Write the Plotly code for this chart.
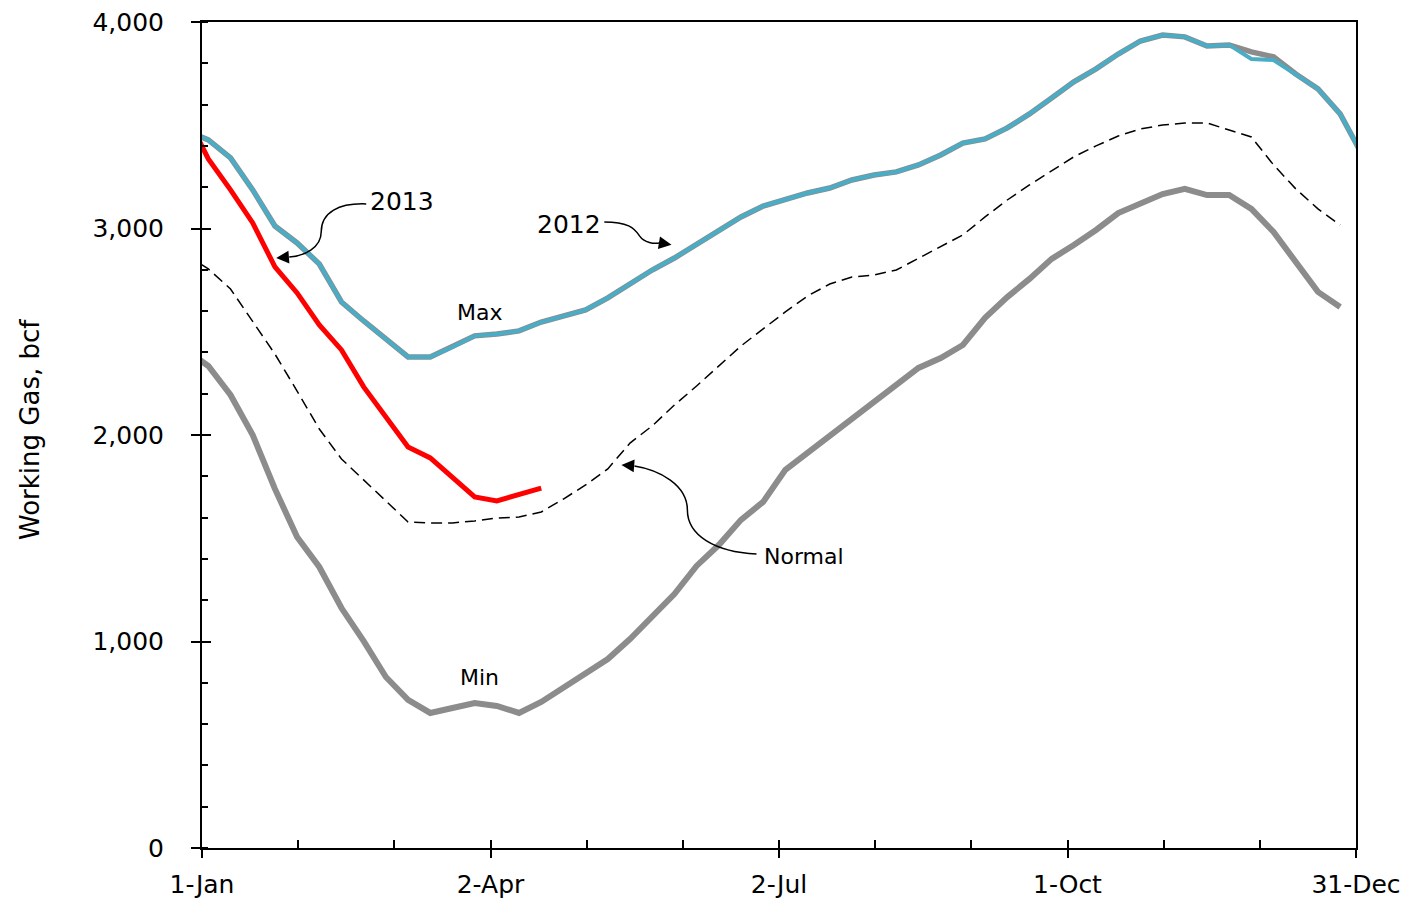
import plotly.graph_objects as go

# ---------------- data (day of year, bcf) ----------------
week_days = [-5, 2, 9, 16, 23, 30, 37, 44, 51, 58, 65, 72, 79, 86, 93, 100, 107,
             114, 121, 128, 135, 142, 149, 156, 163, 170, 177, 184, 191, 198, 205,
             212, 219, 226, 233, 240, 247, 254, 261, 268, 275, 282, 289, 296, 303,
             310, 317, 324, 331, 338, 345, 352, 359, 366]

gas_2012 = [3475, 3429, 3342, 3187, 3012, 2930, 2828, 2644, 2552, 2465, 2378, 2378,
            2426, 2480, 2489, 2504, 2547, 2576, 2606, 2664, 2731, 2799, 2857, 2925,
            2993, 3056, 3109, 3143, 3172, 3196, 3235, 3259, 3274, 3308, 3356, 3414,
            3434, 3487, 3555, 3632, 3710, 3773, 3845, 3908, 3937, 3928, 3884, 3889,
            3821, 3816, 3748, 3676, 3555, 3356]

gas_max = [3475, 3429, 3342, 3187, 3012, 2930, 2828, 2644, 2552, 2465, 2378, 2378,
           2426, 2480, 2489, 2504, 2547, 2576, 2606, 2664, 2731, 2799, 2857, 2925,
           2993, 3056, 3109, 3143, 3172, 3196, 3235, 3259, 3274, 3308, 3356, 3414,
           3434, 3487, 3555, 3632, 3710, 3773, 3845, 3908, 3937, 3928, 3884, 3889,
           3855, 3831, 3748, 3676, 3555, 3356]

gas_normal = [2872, 2804, 2707, 2547, 2392, 2213, 2029, 1884, 1782, 1685, 1579, 1574,
              1574, 1584, 1598, 1603, 1627, 1690, 1758, 1836, 1961, 2044, 2145, 2237,
              2334, 2431, 2514, 2596, 2673, 2731, 2765, 2775, 2799, 2857, 2915, 2969,
              3056, 3138, 3211, 3279, 3347, 3400, 3448, 3482, 3501, 3511, 3511, 3477,
              3443, 3308, 3192, 3095, 3017]

gas_min = [2410, 2334, 2194, 2000, 1739, 1506, 1361, 1162, 1002, 828, 717, 654,
           678, 702, 688, 654, 707, 775, 843, 915, 1012, 1119, 1230, 1366, 1467,
           1589, 1676, 1831, 1913, 1995, 2082, 2160, 2242, 2325, 2373, 2436, 2567,
           2668, 2756, 2853, 2920, 2993, 3075, 3124, 3167, 3192, 3162, 3162, 3095,
           2983, 2838, 2693, 2620]

gas_2013 = [3550, 3337, 3187, 3027, 2814, 2688, 2533, 2412, 2233, 2087, 1942, 1889,
            1794, 1700, 1681, 1712, 1743]

tick_days = [0, 91, 182, 273, 364]
tick_labels = ["1-Jan", "2-Apr", "2-Jul", "1-Oct", "31-Dec"]
y_ticks = [0, 1000, 2000, 3000, 4000]

FONT = "DejaVu Sans"
GREY = "#8c8c8c"
CYAN = "#4bacc6"

fig = go.Figure()
fig.add_trace(go.Scatter(x=week_days[:len(gas_min)], y=gas_min, mode="lines", name="Min",
                         line=dict(color=GREY, width=6)))
fig.add_trace(go.Scatter(x=week_days[:len(gas_max)], y=gas_max, mode="lines", name="Max",
                         line=dict(color=GREY, width=5.5)))
fig.add_trace(go.Scatter(x=week_days[:len(gas_2012)], y=gas_2012, mode="lines", name="2012",
                         line=dict(color=CYAN, width=4)))
fig.add_trace(go.Scatter(x=week_days[:len(gas_2013)], y=gas_2013, mode="lines", name="2013",
                         line=dict(color="#ff0000", width=5)))
fig.add_trace(go.Scatter(x=week_days[:len(gas_normal)], y=gas_normal, mode="lines", name="Normal",
                         line=dict(color="black", width=1.5, dash="11px,6px"),
                         xaxis="x2", yaxis="y2"))

minor_x = [m * 91 / 3 for m in range(1, 12) if m % 3]

fig.update_layout(
    width=1406, height=904,
    margin=dict(l=202, r=50, t=22, b=56),
    paper_bgcolor="white", plot_bgcolor="white",
    showlegend=False,
    font=dict(family=FONT, color="black", size=25),
    xaxis=dict(range=[0, 364], tickmode="array", tickvals=tick_days, ticktext=tick_labels,
               ticks="outside", ticklen=8, tickwidth=2, tickcolor="black",
               showline=True, linecolor="black", linewidth=2, mirror=True,
               showgrid=False, zeroline=False, ticklabelstandoff=5, automargin=False,
               tickfont=dict(family=FONT, size=25, color="black"),
               minor=dict(tickmode="array", tickvals=minor_x, ticks="inside", ticklen=8,
                          tickwidth=1.5, tickcolor="black", showgrid=False)),
    yaxis=dict(range=[0, 4000], tickmode="array", tickvals=y_ticks, tickformat=",",
               ticks="outside", ticklen=9, tickwidth=2, tickcolor="black",
               showline=True, linecolor="black", linewidth=2, mirror=True,
               showgrid=False, zeroline=False, ticklabelstandoff=22, automargin=False,
               tickfont=dict(family=FONT, size=25, color="black"),
               minor=dict(dtick=200, tick0=0, ticks="inside", ticklen=6,
                          tickwidth=1.5, tickcolor="black", showgrid=False)),
    xaxis2=dict(range=[0, 364], overlaying="x", anchor="y2", side="bottom",
                tickmode="array", tickvals=tick_days, ticks="inside", ticklen=8,
                tickwidth=2, tickcolor="black", showticklabels=False, automargin=False,
                showline=False, showgrid=False, zeroline=False),
    yaxis2=dict(range=[0, 4000], overlaying="y", anchor="x2", side="left",
                tickmode="array", tickvals=y_ticks, ticks="inside", ticklen=9,
                tickwidth=2, tickcolor="black", showticklabels=False, automargin=False,
                showline=False, showgrid=False, zeroline=False),
)

# curved leader lines (data coordinates)
curves = [
    "M 51.8,3119 C 43.3,3124 37.6,3080 37.6,2983 C 37.6,2906 32.2,2867 27.5,2862",
    "M 126.9,3032 C 134.2,3032 136.4,3003 138.0,2964 C 139.5,2930 142.7,2925 144.3,2930",
    "M 174.9,1424 C 161.6,1434 153.1,1516 153.1,1637 C 153.1,1758 144.3,1831 136.4,1850",
]
for p in curves:
    fig.add_shape(type="path", path=p, xref="x", yref="y",
                  line=dict(color="black", width=1.5))

# arrow heads
heads = [(23.4, 2857, 13, -1), (148.1, 2921, -12, -2), (132.3, 1855, 13, 1)]
for hx, hy, ax, ay in heads:
    fig.add_annotation(x=hx, y=hy, xref="x", yref="y", text="", showarrow=True,
                       ax=ax, ay=ay, arrowhead=2, arrowwidth=1.5, arrowsize=1.7,
                       arrowcolor="black")

labels = [
    ("2013", 52.4, 3129, "left", 25),
    ("2012", 126.4, 3017, "right", 25),
    ("Max", 87.4, 2591, "center", 22),
    ("Min", 87.4, 828, "center", 22),
    ("Normal", 176.5, 1414, "left", 22),
]
for t, lx, ly, anc, fs in labels:
    fig.add_annotation(x=lx, y=ly, xref="x", yref="y", text=t, showarrow=False,
                       xanchor=anc, yanchor="middle",
                       font=dict(family=FONT, size=fs, color="black"))

fig.add_annotation(x=-(202 - 30) / 1154, y=(848 - 430) / 826, xref="paper", yref="paper",
                   text="Working Gas, bcf", textangle=-90, showarrow=False,
                   xanchor="center", yanchor="middle",
                   font=dict(family=FONT, size=26, color="black"))

fig.write_html("out.html", config={"displayModeBar": False},
               post_script="document.body.style.margin='0';document.body.style.overflow='hidden';")
